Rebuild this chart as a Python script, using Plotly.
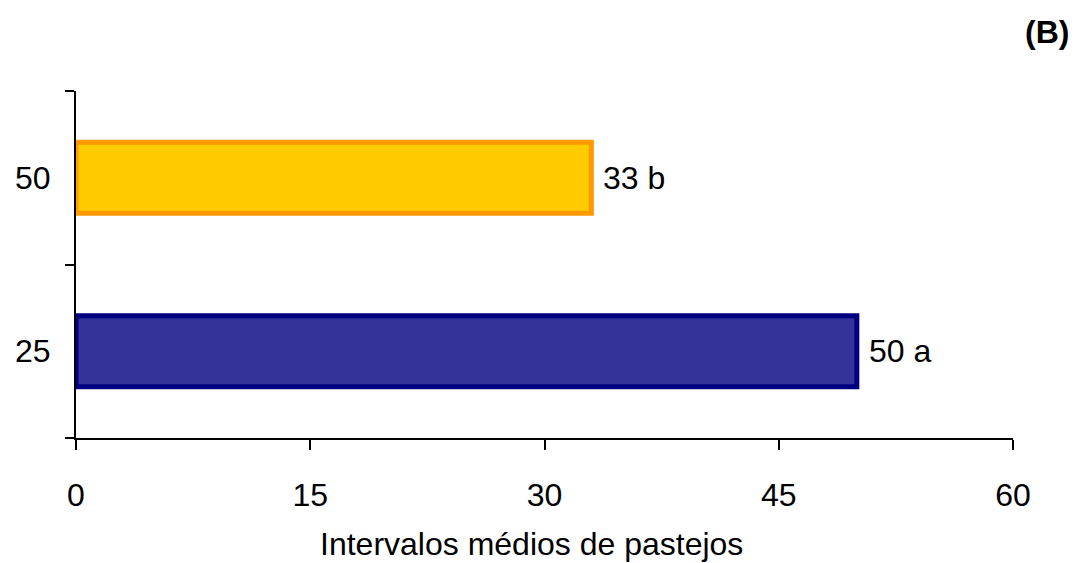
import plotly.graph_objects as go

# Dados do gráfico (B)
categorias = ["25", "50"]
intervalos = [50, 33]
letras = ["a", "b"]
cores_preench = ["#333399", "#FFCC00"]
cores_borda = ["#000080", "#FF9900"]
ticks_x = [0, 15, 30, 45, 60]
titulo_x = "Intervalos médios de pastejos"

fonte = dict(family="Liberation Sans, Arial, sans-serif", size=32, color="black")

fig = go.Figure()
fig.add_trace(go.Bar(
    x=intervalos,
    y=categorias,
    orientation="h",
    marker=dict(color=cores_preench, line=dict(color=cores_borda, width=5)),
    width=0.41,
    hoverinfo="x+y",
))

# Rótulos à direita das barras (posição pelo índice da categoria)
for i, (val, letra) in enumerate(zip(intervalos, letras)):
    fig.add_annotation(
        x=val, y=i, text=f"{val} {letra}",
        xanchor="left", yanchor="middle", xshift=10,
        showarrow=False, font=fonte,
    )

fig.add_annotation(
    x=1.0, y=1.0, xref="paper", yref="paper",
    text="<b>(B)</b>", showarrow=False, font=fonte,
    xanchor="right", yanchor="middle", xshift=58, yshift=59,
)

# título do eixo x, um pouco à esquerda do centro como no original
fig.add_annotation(
    x=0.5, y=0.0, xref="paper", yref="paper",
    text=titulo_x, showarrow=False, font=fonte,
    xanchor="center", yanchor="middle", xshift=-13, yshift=-106,
)

# a página tem 8px de margem no body, por isso a figura é um pouco menor
fig.update_layout(
    width=1070, height=555,
    margin=dict(l=68, r=65, t=83, b=125),
    plot_bgcolor="white",
    paper_bgcolor="white",
    showlegend=False,
    font=fonte,
    xaxis=dict(
        range=[0, 60], tickvals=ticks_x, automargin=False,
        showgrid=False, zeroline=False,
        showline=True, linecolor="black", linewidth=2,
        ticks="outside", ticklen=10, tickwidth=1.5, tickcolor="black",
        ticklabelstandoff=18,
    ),
    yaxis=dict(
        type="category", categoryorder="array", categoryarray=categorias,
        range=[-0.5, 1.5], automargin=False,
        showgrid=False, zeroline=False,
        showline=True, linecolor="black", linewidth=2,
        ticks="outside", ticklen=9, tickwidth=1.5, tickcolor="black",
        tickson="boundaries",
        ticklabelstandoff=17,
    ),
)

fig.write_html("out.html")
